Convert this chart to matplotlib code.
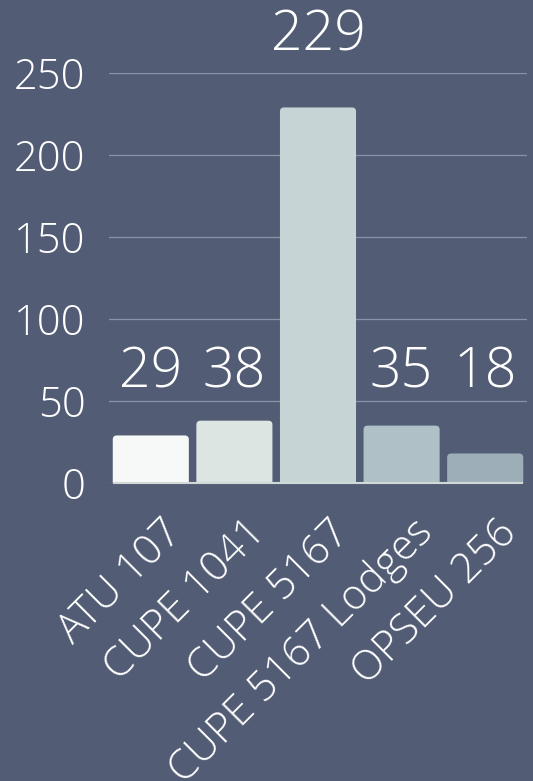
import os
import matplotlib
matplotlib.use("Agg")
import matplotlib.pyplot as plt
import matplotlib.transforms as mtransforms
from matplotlib import font_manager as fm
from matplotlib.patches import FancyBboxPatch

# Données
categories = ['ATU 107', 'CUPE 1041', 'CUPE 5167', 'CUPE 5167 Lodges', 'OPSEU 256']
valeurs = [29, 38, 229, 35, 18]
couleurs = ['#f7f9f9', '#dde5e3', '#c6d4d5', '#afc1c6', '#9eaeb8']
graduations = [0, 50, 100, 150, 200, 250]

fond = '#525d75'

# Police Open Sans Light
chemin_light = '/usr/share/fonts/truetype/open-sans/OpenSans-Light.ttf'


def police(taille):
    if os.path.exists(chemin_light):
        return fm.FontProperties(fname=chemin_light, size=taille)
    return fm.FontProperties(family='Open Sans', weight='light', size=taille)


fig = plt.figure(figsize=(5.33, 7.81), dpi=100, facecolor=fond)
ax = fig.add_axes([109 / 533, 298 / 781, 418 / 533, 410 / 781], facecolor=fond)
ax.set_xlim(-0.5, 4.5)
ax.set_ylim(0, 250)

# Lignes de la grille
ax.set_yticks(graduations)
ax.yaxis.grid(True, color='#8a93a6', linewidth=0.9)
ax.set_axisbelow(True)

# Barres (arrondies en haut)
barres = ax.bar(range(len(valeurs)), valeurs, width=0.91, color=couleurs)
for b in barres:
    b.set_visible(False)
    p = FancyBboxPatch((b.get_x(), -3), b.get_width(), b.get_height() + 3,
                       boxstyle='round,pad=0,rounding_size=0.05',
                       mutation_aspect=49, facecolor=b.get_facecolor(),
                       edgecolor='none', zorder=3)
    ax.add_patch(p)

# Ligne de base
ax.hlines(0, barres[0].get_x(), barres[-1].get_x() + barres[-1].get_width(),
          color='#d0d8d8', linewidth=1.5, zorder=4, clip_on=False)

# Étiquettes des valeurs
for i, v in enumerate(valeurs):
    y = v + 27 if v > 50 else 50
    ax.text(i, y, str(v), ha='center', va='bottom', color='white',
            fontproperties=police(40), clip_on=False)

# Axes
for s in ax.spines.values():
    s.set_visible(False)
ax.tick_params(axis='y', length=0, pad=17, labelcolor='white')
ax.tick_params(axis='x', length=0, pad=22, labelcolor='white')
ax.set_yticklabels([str(g) for g in graduations])
ax.set_xticks(range(len(categories)))
ax.set_xticklabels(categories, rotation=45, ha='right', va='center',
                   rotation_mode='anchor')
for lab in ax.get_yticklabels():
    lab.set_fontproperties(police(30))
decalage = mtransforms.ScaledTranslation(25 / 100, -13 / 100, fig.dpi_scale_trans)
for lab in ax.get_xticklabels():
    lab.set_fontproperties(police(30))
    lab.set_transform(lab.get_transform() + decalage)

fig.savefig('out.png', facecolor=fond)
